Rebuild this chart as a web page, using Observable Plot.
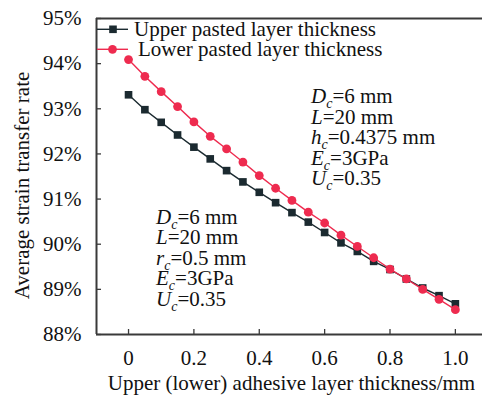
<!DOCTYPE html>
<html>
<head>
<meta charset="utf-8">
<script src="https://cdn.jsdelivr.net/npm/d3@7"></script>
<script src="https://cdn.jsdelivr.net/npm/@observablehq/plot@0.6"></script>
<style>
  body { margin: 0; background: #fff; }
  svg { display: block; }
</style>
</head>
<body>
<div id="chart"></div>
<script>
// Adhesive layer thickness (mm)
const thickness = [0, 0.05, 0.1, 0.15, 0.2, 0.25, 0.3, 0.35, 0.4, 0.45, 0.5,
                   0.55, 0.6, 0.65, 0.7, 0.75, 0.8, 0.85, 0.9, 0.95, 1.0];
// Average strain transfer rate (%) when varying the upper pasted layer
const upperRate = [93.31, 92.98, 92.70, 92.42, 92.15, 91.89, 91.63, 91.38, 91.15, 90.92, 90.70,
                   90.49, 90.26, 90.03, 89.84, 89.62, 89.44, 89.23, 89.03, 88.86, 88.68];
// Average strain transfer rate (%) when varying the lower pasted layer
const lowerRate = [94.09, 93.72, 93.38, 93.05, 92.71, 92.39, 92.11, 91.82, 91.52, 91.24, 90.97,
                   90.71, 90.47, 90.20, 89.95, 89.70, 89.45, 89.23, 89.00, 88.78, 88.55];

const xTicks = [0, 0.2, 0.4, 0.6, 0.8, 1.0];
const xTickLabels = ["0", "0.2", "0.4", "0.6", "0.8", "1.0"];
const yTicks = [88, 89, 90, 91, 92, 93, 94, 95];
const seriesNames = ["Upper pasted layer thickness", "Lower pasted layer thickness"];
const xTitle = "Upper (lower) adhesive layer thickness/mm";
const yTitle = "Average strain transfer rate";

// Parameter notes: [symbol, subscript, rest]
const leftNote = [["D", "c", "=6 mm"], ["L", "", "=20 mm"], ["r", "c", "=0.5 mm"], ["E", "c", "=3GPa"], ["U", "c", "=0.35"]];
const rightNote = [["D", "c", "=6 mm"], ["L", "", "=20 mm"], ["h", "c", "=0.4375 mm"], ["E", "c", "=3GPa"], ["U", "c", "=0.35"]];

const DARK = "#1b2a30";
const RED = "#ee2b4f";
const AXIS = "#3a3a3a";
const FONT = "'Liberation Serif', 'Times New Roman', serif";

const upper = thickness.map((t, i) => ({t, v: upperRate[i]}));
const lower = thickness.map((t, i) => ({t, v: lowerRate[i]}));

const X0 = -0.098, X1 = 1.083;

const chart = Plot.plot({
  width: 482,
  height: 396,
  marginLeft: 96,
  marginRight: 0,
  marginTop: 18,
  marginBottom: 62,
  style: {fontFamily: FONT, fontSize: "21px", color: "#111", background: "#fff", overflow: "visible"},
  x: {domain: [X0, X1]},
  y: {domain: [88, 95]},
  marks: [
    // tick labels
    Plot.axisX({ticks: xTicks, tickSize: 0, tickPadding: 16, tickFormat: d => xTickLabels[xTicks.indexOf(d)], label: null, fill: "#111"}),
    Plot.axisY({ticks: yTicks, tickSize: 0, tickPadding: 15, tickFormat: d => d + "%", label: null, fill: "#111"}),
    // inward tick marks
    Plot.axisX({ticks: xTicks, tickSize: 5, dy: -5, tickFormat: () => "", label: null, stroke: AXIS, strokeWidth: 1.3}),
    Plot.axisY({ticks: yTicks, tickSize: 5, dx: 5, tickFormat: () => "", label: null, stroke: AXIS, strokeWidth: 1.3}),
    // frame (open on the right)
    Plot.ruleX([X0], {stroke: AXIS, strokeWidth: 2}),
    Plot.ruleY([88, 95], {stroke: AXIS, strokeWidth: 2}),
    // series
    Plot.line(upper, {x: "t", y: "v", stroke: DARK, strokeWidth: 1.4}),
    Plot.dot(upper, {x: "t", y: "v", symbol: "square", r: 4.3, fill: DARK, stroke: null}),
    Plot.line(lower, {x: "t", y: "v", stroke: RED, strokeWidth: 1.4}),
    Plot.dot(lower, {x: "t", y: "v", symbol: "circle", r: 4.4, fill: RED, stroke: null}),
    // axis titles
    Plot.text([xTitle], {frameAnchor: "bottom", dx: 2, dy: 55, lineAnchor: "bottom", textAnchor: "middle", fill: "#111", fontSize: 21}),
    Plot.text([yTitle], {frameAnchor: "left", dx: -74, dy: 9, rotate: -90, textAnchor: "middle", lineAnchor: "middle", fill: "#111", fontSize: 21})
  ]
});

document.getElementById("chart").appendChild(chart);

const svg = d3.select(chart);

// Legend
const legend = svg.append("g").attr("font-family", FONT).attr("font-size", 21)
  .attr("fill", "#111").attr("text-anchor", "start");
const legendRows = [
  {name: seriesNames[0], color: DARK, shape: "square", y: 29.3, tx: 134},
  {name: seriesNames[1], color: RED, shape: "circle", y: 49.3, tx: 138}
];
legendRows.forEach(r => {
  legend.append("line").attr("x1", 97).attr("x2", 128).attr("y1", r.y).attr("y2", r.y)
    .attr("stroke", r.color).attr("stroke-width", 1.4);
  if (r.shape === "square") {
    legend.append("rect").attr("x", 113 - 3.8).attr("y", r.y - 3.8).attr("width", 7.6).attr("height", 7.6).attr("fill", r.color);
  } else {
    legend.append("circle").attr("cx", 112.5).attr("cy", r.y).attr("r", 4.4).attr("fill", r.color);
  }
  legend.append("text").attr("x", r.tx).attr("y", r.y + 6.8).text(r.name);
});

// Parameter notes with italic symbols and subscripts
function drawNote(lines, x, y0, step) {
  const g = svg.append("g").attr("font-family", FONT).attr("font-size", 21)
    .attr("fill", "#111").attr("text-anchor", "start");
  lines.forEach((l, i) => {
    const t = g.append("text").attr("x", x).attr("y", y0 + i * step);
    t.append("tspan").attr("font-style", "italic").text(l[0]);
    if (l[1]) {
      t.append("tspan").attr("font-style", "italic").attr("font-size", 14).attr("dy", 5).text(l[1]);
      t.append("tspan").attr("dy", -5).text(l[2]);
    } else {
      t.append("tspan").text(l[2]);
    }
  });
}
drawNote(rightNote, 311, 103, 20.5);
drawNote(leftNote, 156, 224, 20.4);
</script>
</body>
</html>
